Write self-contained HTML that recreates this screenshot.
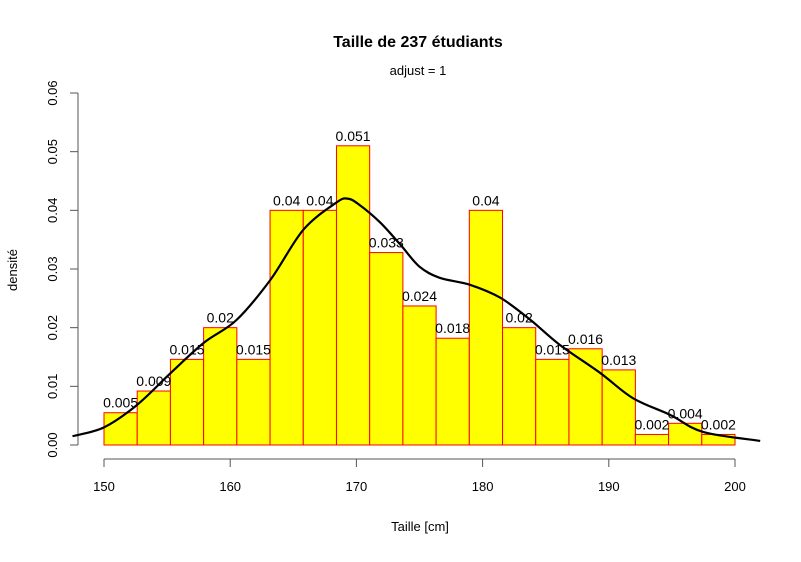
<!DOCTYPE html>
<html><head><meta charset="utf-8"><style>
body{margin:0;background:#fff}
svg{font-family:"Liberation Sans",Arial,sans-serif}
</style></head><body>
<svg id="chart" width="801" height="557" viewBox="0 0 801 557">
<text x="418" y="47" text-anchor="middle" font-size="16" font-weight="bold">Taille de 237  étudiants</text>
<text x="418" y="75" text-anchor="middle" font-size="13">adjust =  1</text>
<text x="420" y="531" text-anchor="middle" font-size="13">Taille [cm]</text>
<text transform="translate(17,270) rotate(-90)" text-anchor="middle" font-size="13">densité</text>
<g id="bars"></g><g id="labels"></g><g id="axes"></g>
<path id="curve" fill="none" stroke="#000" stroke-width="2.2"></path>
</svg>
<script>
const binStart = 150, binEnd = 200;
const heights = [0.0055,0.0092,0.0146,0.0200,0.0146,0.0400,0.0400,0.0510,0.0328,0.0237,0.0182,0.0400,0.0200,0.0146,0.0164,0.0128,0.0018,0.0037,0.0018];
const labels = ["0.005","0.009","0.015","0.02","0.015","0.04","0.04","0.051","0.033","0.024","0.018","0.04","0.02","0.015","0.016","0.013","0.002","0.004","0.002"];
const curveX = [147.5,150,152.6,155.3,157.9,160.5,163.2,165.8,168.4,169.3,170.2,171.9,173.5,175.0,176.6,179.0,181.4,183.8,186.1,189.3,191.9,194.9,197.5,202];
const curveY = [0.0015,0.003,0.0068,0.0123,0.0174,0.0213,0.0282,0.0367,0.0413,0.042,0.041,0.0379,0.0341,0.0304,0.0285,0.0273,0.0251,0.0213,0.0171,0.0123,0.008,0.0051,0.0022,0.0007];
const xTicks = [150,160,170,180,190,200];
const yTicks = ["0.00","0.01","0.02","0.03","0.04","0.05","0.06"];
const NS="http://www.w3.org/2000/svg";
const sx=v=>104+(v-150)*(735-104)/50;
const sy=v=>445-v*(445-93)/0.06;
function mk(t,a,p){const e=document.createElementNS(NS,t);for(const k in a)e.setAttribute(k,a[k]);p.appendChild(e);return e;}
const bw=(binEnd-binStart)/heights.length;
const gb=document.getElementById('bars'), gl=document.getElementById('labels'), ga=document.getElementById('axes');
heights.forEach((h,i)=>{
 const x0=sx(binStart+i*bw), x1=sx(binStart+(i+1)*bw);
 const r=mk('rect',{x:x0,y:sy(h),width:x1-x0,height:sy(0)-sy(h),fill:'#ffff00',stroke:'#ff0000','stroke-width':1},gb);
 
 
 const t=mk('text',{x:(x0+x1)/2,y:sy(h)-5,'text-anchor':'middle','font-size':14},gl);
 t.textContent=labels[i];
 
 
});
const P=curveX.map((x,i)=>[sx(x),sy(curveY[i])]);
let d='M'+P[0][0].toFixed(1)+','+P[0][1].toFixed(1);
for(let i=0;i<P.length-1;i++){
 const p0=P[Math.max(0,i-1)],p1=P[i],p2=P[i+1],p3=P[Math.min(P.length-1,i+2)];
 const c1=[p1[0]+(p2[0]-p0[0])/6,p1[1]+(p2[1]-p0[1])/6];
 const c2=[p2[0]-(p3[0]-p1[0])/6,p2[1]-(p3[1]-p1[1])/6];
 d+=`C${c1[0].toFixed(1)},${c1[1].toFixed(1)} ${c2[0].toFixed(1)},${c2[1].toFixed(1)} ${p2[0].toFixed(1)},${p2[1].toFixed(1)}`;
}
document.getElementById('curve').setAttribute('d',d);
let xa=mk('line',{x1:sx(150),x2:sx(200),y1:459,y2:459,stroke:'#555'},ga);


xTicks.forEach(v=>{mk('line',{x1:sx(v),x2:sx(v),y1:459,y2:467,stroke:'#555'},ga);
 const t=mk('text',{x:sx(v),y:491,'text-anchor':'middle','font-size':13},ga);t.textContent=v;
 
 });
let ya=mk('line',{x1:78,x2:78,y1:sy(0),y2:sy(0.06),stroke:'#555'},ga);


yTicks.forEach(s=>{const v=parseFloat(s);mk('line',{x1:70,x2:78,y1:sy(v),y2:sy(v),stroke:'#555'},ga);
 const t=mk('text',{transform:`translate(57,${sy(v)}) rotate(-90)`,'text-anchor':'middle','font-size':13},ga);t.textContent=s;
 
 });
</script>
</body></html>
